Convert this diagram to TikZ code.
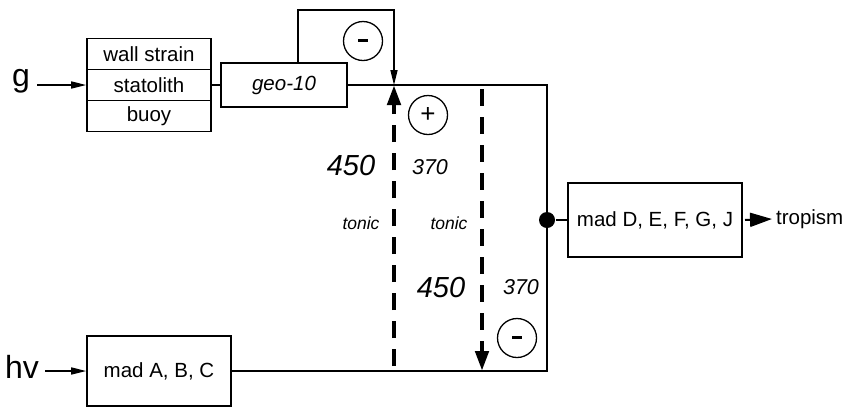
\documentclass[tikz,border=0pt]{standalone}
\usepackage{fontspec}
\setmainfont{Liberation Sans}
\usetikzlibrary{arrows.meta}
\begin{document}
\begin{tikzpicture}[x=1pt,y=-1pt,
  line width=1.5pt,
  box/.style={draw, line width=1.6pt, inner sep=0pt, font=\fontsize{20.5}{24}\selectfont},
  cell/.style={box, minimum width=124pt, minimum height=31pt},
  sign/.style={draw, circle, line width=1.3pt, minimum size=39pt, inner sep=0pt, font=\fontsize{26}{28}\selectfont},
  bignum/.style={font=\fontsize{29}{32}\selectfont\itshape},
  smallnum/.style={font=\fontsize{21.5}{24}\selectfont\itshape},
  tonicl/.style={font=\fontsize{17.5}{20}\selectfont\itshape},
  inlabel/.style={font=\fontsize{32}{34}\selectfont},
  thinarrow/.style={-{Triangle[length=15pt,width=7pt]}},
  dasharrow/.style={line width=4.5pt, dash pattern=on 17pt off 11pt, -{Triangle[length=20pt,width=13pt]}},
]
\useasboundingbox (0,0) rectangle (848,408);

% input labels
\node[inlabel] (g) at (21,81) {g};
\node[inlabel] (hv) at (22,367) {hv};

% stacked sensor box
\node[cell] (wall) at (149,54) {wall strain};
\node[cell] (stat) at (149,85) {statolith};
\node[cell] (buoy) at (149,116) {buoy};

% boxes
\node[box, minimum width=126pt, minimum height=44pt, font=\fontsize{20.5}{24}\selectfont\itshape] (geo) at (284,85) {geo-10};
\node[box, minimum width=174pt, minimum height=74pt] (madD) at (655,220) {mad D, E, F, G, J};
\node[box, minimum width=144pt, minimum height=70pt] (madA) at (159,371) {mad A, B, C};
\node[font=\fontsize{20.5}{24}\selectfont, anchor=west] (trop) at (772,219) {tropism};

% junction coordinates
\coordinate (gs) at (37,85);
\coordinate (hs) at (45,371);
\coordinate (loopA) at (298,63);
\coordinate (loopB) at (298,10);
\coordinate (loopC) at (394,10);
\coordinate (jt) at (394,85);
\coordinate (tr) at (547,85);
\coordinate (br) at (547,371);
\coordinate (jb) at (482,371);
\coordinate (d1s) at (394,366);
\coordinate (d2s) at (482,89);
\coordinate (arrS) at (745,220);
\node[circle, fill, inner sep=0pt, minimum size=16pt] (dot) at (547,220) {};

% input arrows
\draw[thinarrow] (gs) -- (stat.west);
\draw[thinarrow] (hs) -- (madA.west);

% connections
\draw (stat.east) -- (geo.west);
\draw (geo.east) -- (tr) -- (br) -- (madA.east);
\draw[thinarrow] (loopA) -- (loopB) -- (loopC) -- (jt);
\draw (dot) -- (madD.west);
\draw[-{Triangle[length=22pt,width=14pt]}, line width=2pt] (arrS) -- (trop.west);

% dashed arrows
\draw[dasharrow] (d1s) -- (jt);
\draw[dasharrow] (d2s) -- (jb);

% signs
\node[sign] (m1) at (363,41) {\raisebox{1pt}{\rule{10pt}{2.2pt}}};
\node[sign] (p1) at (428,115) {+};
\node[sign] (m2) at (517,338) {\raisebox{1pt}{\rule{10pt}{2.2pt}}};

% labels
\node[bignum] (n450a) at (351,166) {450};
\node[smallnum] (n370a) at (430,167) {370};
\node[tonicl] (t1) at (361,223) {tonic};
\node[tonicl] (t2) at (449,223) {tonic};
\node[bignum] (n450b) at (441,288) {450};
\node[smallnum] (n370b) at (521,287) {370};
\end{tikzpicture}
\end{document}
